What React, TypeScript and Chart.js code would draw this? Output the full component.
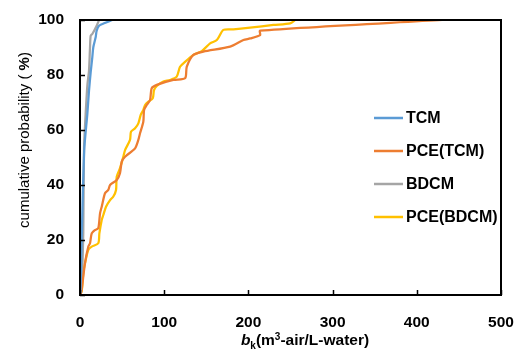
import React, { useEffect, useRef } from "react";
import { Chart, registerables } from "chart.js";

Chart.register(...registerables);

const xTicks = [0, 100, 200, 300, 400, 500];
const yTicks = [0, 20, 40, 60, 80, 100];

const seriesNames = ["TCM", "PCE(TCM)", "BDCM", "PCE(BDCM)"];
const seriesColors = ["#5B9BD5", "#ED7D31", "#A5A5A5", "#FFC000"];

const tcmX = [0.6, 2, 5, 8.7, 10.7, 12.7, 14.6, 15.8, 18.6, 19.8, 22.6, 28.5, 38.4];
const tcmY = [0.7, 20, 52.7, 65.8, 74.3, 81.0, 86.4, 90.1, 93.7, 96.1, 97.9, 98.8, 100];

const pceTcmX = [1, 2, 5.9, 9.9, 11.9, 13.9, 17.8, 21.7, 23.8, 25.8, 29.7, 33.6, 35.7, 43.6, 47.5, 49.6, 53.5, 65.4, 69.3, 71.3, 75.2, 76.1, 79.3, 83.2, 85.2, 91.2, 110.9, 124.8, 126.8, 134.7, 146.5, 178.3, 194.1, 202, 213.9, 213.9, 430];
const pceTcmY = [0.5, 1.8, 11.5, 17.6, 18.8, 22.4, 23.6, 24.3, 29.7, 32.1, 37.0, 38.2, 40.0, 41.8, 44.3, 48.5, 50.3, 53.3, 56.4, 58.8, 63.0, 67.3, 69.1, 70.9, 75.2, 76.4, 78.2, 78.8, 83.0, 87.3, 88.5, 90.3, 92.7, 93.3, 94.5, 96.1, 100];

const bdcmX = [0.5, 2, 3.9, 4.8, 6.7, 8.7, 10.7, 11.9, 12.7, 14.6, 19.8, 22.6];
const bdcmY = [0.5, 4.3, 22.4, 53.7, 65.8, 76.1, 81.6, 90.1, 94.3, 94.9, 97.9, 100];

const pceBdcmX = [0.8, 2, 3.9, 5.9, 9.9, 13.9, 21.7, 23, 25.8, 27.7, 30.9, 35.7, 39.6, 42.8, 43.6, 47.5, 51.5, 53.5, 59.4, 60.6, 65.4, 69.3, 72.1, 75.2, 77.3, 81.2, 86.4, 87.9, 91.2, 99.0, 107, 114.9, 118.8, 124.8, 134.7, 144.6, 154.5, 162.5, 170.3, 182.2, 202, 229.7, 249.6, 255.5];
const pceBdcmY = [0.8, 1.2, 7.9, 11.5, 16.4, 17.6, 18.8, 22.4, 27.3, 29.1, 32.1, 34.5, 35.8, 38.2, 43.0, 46.1, 50.3, 52.7, 56.4, 59.4, 60.6, 62.4, 65.5, 67.3, 69.1, 70.3, 71.5, 74.5, 76.0, 77.6, 78.2, 79.4, 83.0, 84.8, 87.3, 88.7, 91.5, 92.7, 96.4, 96.6, 97.2, 98.2, 98.8, 100];

const seriesX = [tcmX, pceTcmX, bdcmX, pceBdcmX];
const seriesY = [tcmY, pceTcmY, bdcmY, pceBdcmY];

const FONT = "'Liberation Sans', Arial, sans-serif";

const decorPlugin = {
  id: "decor",
  afterDraw(chart: any) {
    const ctx = chart.ctx as CanvasRenderingContext2D;
    const { left, right, top, bottom } = chart.chartArea;
    const xs = chart.scales.x;
    const ys = chart.scales.y;
    ctx.save();
    ctx.strokeStyle = "#000";
    ctx.lineWidth = 2;
    ctx.strokeRect(left, top, right - left, bottom - top);
    ctx.lineWidth = 1.5;
    ctx.beginPath();
    xTicks.forEach((v) => {
      const px = Math.round(xs.getPixelForValue(v)) + 0.5;
      ctx.moveTo(px, bottom);
      ctx.lineTo(px, bottom - 5);
    });
    yTicks.forEach((v) => {
      const py = Math.round(ys.getPixelForValue(v)) + 0.5;
      ctx.moveTo(left, py);
      ctx.lineTo(left + 5, py);
    });
    ctx.stroke();

    const legY0 = 118;
    const legStep = 33;
    ctx.textBaseline = "middle";
    ctx.textAlign = "left";
    ctx.font = `bold 16px ${FONT}`;
    seriesNames.forEach((name, i) => {
      const y = legY0 + i * legStep;
      ctx.strokeStyle = seriesColors[i];
      ctx.lineWidth = 2.5;
      ctx.beginPath();
      ctx.moveTo(374, y);
      ctx.lineTo(403, y);
      ctx.stroke();
      ctx.fillStyle = "#000";
      ctx.fillText(name, 406, y + 1);
    });

    ctx.save();
    ctx.translate(25, 140);
    ctx.rotate(-Math.PI / 2);
    ctx.textBaseline = "middle";
    ctx.textAlign = "left";
    const p1 = "cumulative probability ( ";
    const p2 = "%";
    const p3 = ")";
    ctx.font = `15px ${FONT}`;
    const w1 = ctx.measureText(p1).width;
    const w3 = ctx.measureText(p3).width;
    ctx.font = `bold 15px ${FONT}`;
    const w2 = ctx.measureText(p2).width;
    let sx = -(w1 + w2 + w3) / 2;
    ctx.font = `15px ${FONT}`;
    ctx.fillText(p1, sx, 0);
    sx += w1;
    ctx.font = `bold 15px ${FONT}`;
    ctx.fillText(p2, sx, 0);
    sx += w2;
    ctx.font = `15px ${FONT}`;
    ctx.fillText(p3, sx, 0);
    ctx.restore();

    const parts = [
      { t: "b", f: `italic bold 15.5px ${FONT}`, dy: 0 },
      { t: "k", f: `bold 10px ${FONT}`, dy: 4 },
      { t: "(m", f: `bold 15.5px ${FONT}`, dy: 0 },
      { t: "3", f: `bold 10px ${FONT}`, dy: -5 },
      { t: "-air/L-water)", f: `bold 15.5px ${FONT}`, dy: 0 },
    ];
    ctx.textBaseline = "alphabetic";
    let total = 0;
    const widths = parts.map((p) => {
      ctx.font = p.f;
      const w = ctx.measureText(p.t).width;
      total += w;
      return w;
    });
    let cx = 305 - total / 2;
    const base = 345;
    parts.forEach((p, i) => {
      ctx.font = p.f;
      ctx.fillText(p.t, cx, base + p.dy);
      cx += widths[i];
    });
    ctx.restore();
  },
};

export default function App() {
  const ref = useRef<HTMLCanvasElement | null>(null);
  useEffect(() => {
    document.body.style.margin = "0";
    const canvas = ref.current;
    if (!canvas) return;
    const datasets = seriesNames.map((name, i) => ({
      label: name,
      data: seriesX[i].map((x, j) => ({ x, y: seriesY[i][j] })),
      borderColor: seriesColors[i],
      backgroundColor: seriesColors[i],
      borderWidth: 2.25,
      pointRadius: 0,
      showLine: true,
      tension: 0.25,
      fill: false,
    }));
    const chart = new Chart(canvas, {
      type: "scatter",
      data: { datasets },
      options: {
        animation: false,
        responsive: false,
        maintainAspectRatio: false,
        layout: { padding: { top: 20, right: 25, left: 0, bottom: 0 } },
        plugins: { legend: { display: false }, tooltip: { enabled: false } },
        scales: {
          x: {
            type: "linear",
            min: 0,
            max: 500,
            afterFit: (s: any) => {
              s.height = 69;
              s.paddingLeft = 0;
              s.paddingRight = 0;
              s.paddingTop = 0;
              s.paddingBottom = 0;
            },
            afterBuildTicks: (s: any) => {
              s.ticks = xTicks.map((v) => ({ value: v }));
            },
            ticks: {
              color: "#000",
              font: { family: FONT, size: 15.5, weight: "bold" },
              padding: 18,
              maxRotation: 0,
            },
            grid: { display: true, drawOnChartArea: false, drawTicks: false, color: "rgba(0,0,0,0)" },
            border: { display: false },
          },
          y: {
            type: "linear",
            min: 0,
            max: 100,
            afterFit: (s: any) => {
              s.width = 80;
              s.paddingLeft = 0;
              s.paddingRight = 0;
              s.paddingTop = 0;
              s.paddingBottom = 0;
            },
            afterBuildTicks: (s: any) => {
              s.ticks = yTicks.map((v) => ({ value: v }));
            },
            ticks: {
              color: "#000",
              font: { family: FONT, size: 15.5, weight: "bold" },
              padding: 16,
            },
            grid: { display: true, drawOnChartArea: false, drawTicks: false, color: "rgba(0,0,0,0)" },
            border: { display: false },
          },
        },
      },
      plugins: [decorPlugin],
    });
    return () => chart.destroy();
  }, []);
  return (
    <div style={{ position: "absolute", left: 0, top: 0, width: 526, height: 364, background: "#fff" }}>
      <canvas ref={ref} width={526} height={364} style={{ width: 526, height: 364, display: "block" }} />
    </div>
  );
}
